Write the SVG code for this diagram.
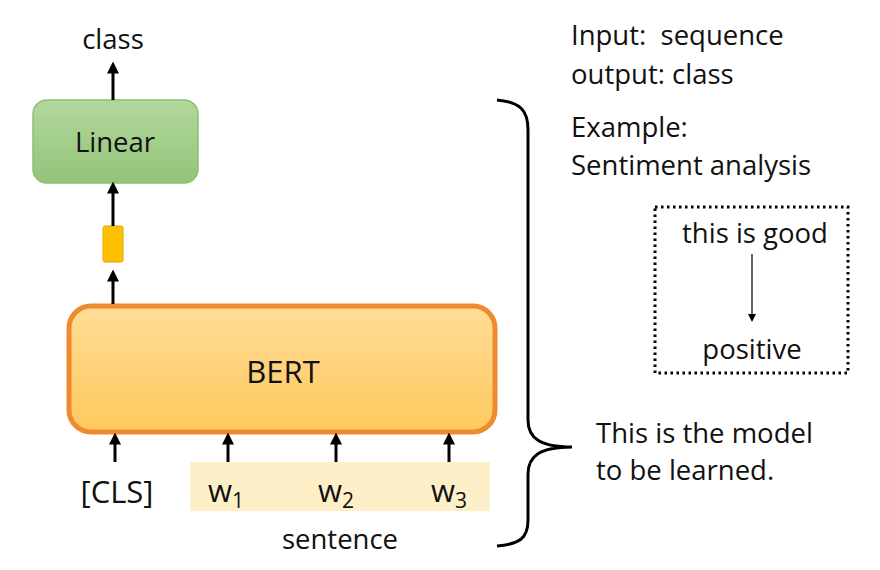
<svg xmlns="http://www.w3.org/2000/svg" width="880" height="570" viewBox="0 0 880 570">
<defs>
<style>
text{font-family:"Open Sans","Noto Sans","Liberation Sans",sans-serif;fill:#111;white-space:pre;}
.lbl{font-size:27.5px;}
.big{font-size:31px;}
.arr{stroke:#000;stroke-width:3;fill:none;marker-end:url(#ah);}
</style>
<marker id="ah" markerWidth="4" markerHeight="4" refX="2.5" refY="2" orient="auto" markerUnits="strokeWidth">
<path d="M0,0 L4,2 L0,4 z" fill="#000"/>
</marker>
<marker id="ahs" markerWidth="8" markerHeight="8" refX="6" refY="4" orient="auto" markerUnits="userSpaceOnUse">
<path d="M0,0 L8,4 L0,8 z" fill="#000"/>
</marker>
<linearGradient id="gLin" x1="0" y1="0" x2="0" y2="1">
<stop offset="0" stop-color="#b3d79c"/>
<stop offset="1" stop-color="#93c47a"/>
</linearGradient>
<linearGradient id="gBert" x1="0" y1="0" x2="0" y2="1">
<stop offset="0" stop-color="#ffdc96"/>
<stop offset="1" stop-color="#ffc95e"/>
</linearGradient>
</defs>
<rect width="880" height="570" fill="#fff"/>

<g id="class-label"><text class="lbl" x="113" y="49" text-anchor="middle">class</text></g>

<g id="linear">
<rect x="33" y="100" width="165" height="83" rx="14" fill="url(#gLin)" stroke="#8cc070" stroke-width="1.5"/>
<text class="lbl" x="115" y="152" text-anchor="middle">Linear</text>
</g>

<g id="cls-vector"><rect x="103" y="226" width="20" height="36" rx="2" fill="#ffc000" stroke="#e0a800" stroke-width="1"/></g>

<g id="bert">
<rect x="69" y="306" width="426" height="126" rx="22" fill="url(#gBert)" stroke="#f08a2e" stroke-width="5"/>
<text class="big" x="283" y="383" text-anchor="middle">BERT</text>
</g>

<g id="sentence-band"><rect x="190" y="462" width="300" height="49" fill="#fdefc8"/></g>

<g id="inputs">
<text class="big" x="117" y="503" text-anchor="middle">[CLS]</text>
<text class="big" x="208" y="502">w<tspan font-size="21" dy="6">1</tspan></text>
<text class="big" x="318" y="502">w<tspan font-size="21" dy="6">2</tspan></text>
<text class="big" x="431" y="502">w<tspan font-size="21" dy="6">3</tspan></text>
<text class="lbl" x="340" y="549" text-anchor="middle">sentence</text>
</g>

<g id="connectors">
<line class="arr" x1="113" y1="100" x2="113" y2="66"/>
<line class="arr" x1="113" y1="226" x2="113" y2="186"/>
<line class="arr" x1="113" y1="304" x2="113" y2="274"/>
<line class="arr" x1="115" y1="462" x2="115" y2="437"/>
<line class="arr" x1="228" y1="462" x2="228" y2="437"/>
<line class="arr" x1="336" y1="462" x2="336" y2="437"/>
<line class="arr" x1="449" y1="462" x2="449" y2="437"/>
<line x1="752" y1="254" x2="752" y2="320" stroke="#000" stroke-width="1.2" marker-end="url(#ahs)"/>
</g>

<g id="brace">
<path d="M497,100 C520,102 528,110 528,130 L528,420 C528,438 540,447 572,447 C540,447 528,456 528,474 L528,520 C528,538 520,544 497,546" fill="none" stroke="#000" stroke-width="3"/>
</g>

<g id="info">
<text class="lbl" x="571" y="45">Input:  sequence</text>
<text class="lbl" x="571" y="84">output: class</text>
<text class="lbl" x="571" y="137">Example:</text>
<text class="lbl" x="571" y="175">Sentiment analysis</text>
</g>

<g id="example">
<rect x="655" y="207" width="193" height="166" fill="none" stroke="#000" stroke-width="3" stroke-dasharray="2.5 3.5"/>
<text class="lbl" x="755" y="243" text-anchor="middle">this is good</text>
<text class="lbl" x="752" y="359" text-anchor="middle">positive</text>
</g>

<g id="model-note">
<text class="lbl" x="596" y="443">This is the model</text>
<text class="lbl" x="596" y="480">to be learned.</text>
</g>
</svg>
